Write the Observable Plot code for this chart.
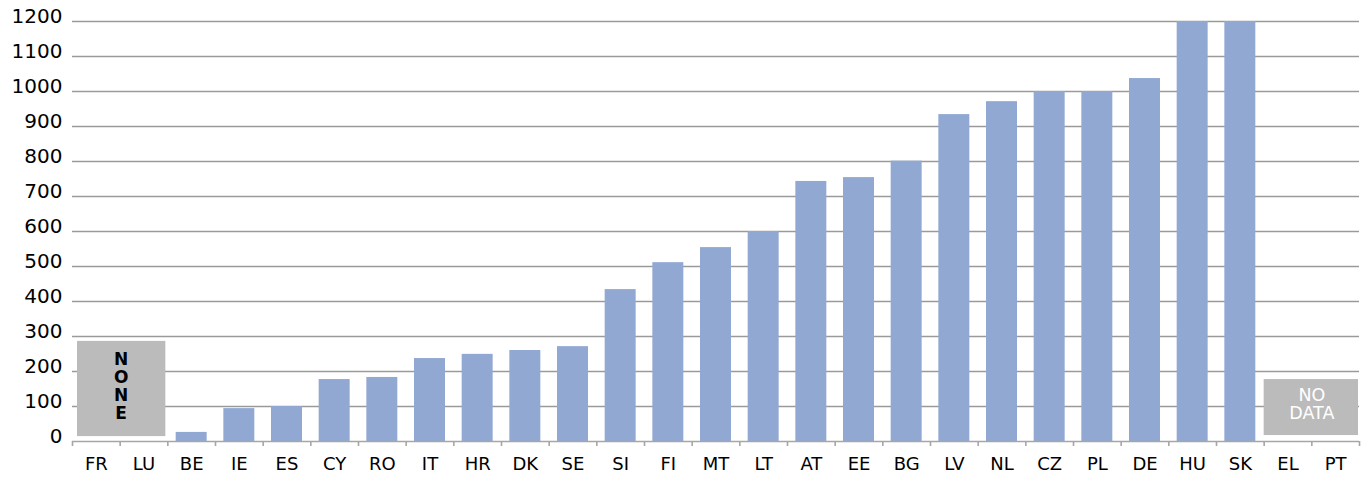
<!DOCTYPE html>
<html>
<head>
<meta charset="utf-8">
<script src="https://cdn.jsdelivr.net/npm/d3@7"></script>
<script src="https://cdn.jsdelivr.net/npm/@observablehq/plot@0.6"></script>
<style>
  html, body { margin: 0; padding: 0; background: #fff; }
</style>
</head>
<body>
<div id="chart"></div>
<script>
const categories = ["FR","LU","BE","IE","ES","CY","RO","IT","HR","DK","SE","SI","FI","MT","LT","AT","EE","BG","LV","NL","CZ","PL","DE","HU","SK","EL","PT"];
const values = [null,null,26,94,100,177,183,237,249,260,271,434,511,554,600,743,754,801,934,971,1000,1000,1037,1200,1200,null,null];
const yTicks = [0,100,200,300,400,500,600,700,800,900,1000,1100,1200];
const noneBox = [{from:"FR", to:"LU", lo:14, hi:286, label:"N\nO\nN\nE"}];
const noDataBox = [{from:"EL", to:"PT", lo:17, hi:177, label:"NO\nDATA"}];

const barData = categories.map((c, i) => ({c, i, v: values[i]})).filter(d => d.v != null);
const idx = c => categories.indexOf(c);
const pad = 0.175;

const chart = Plot.plot({
  width: 1367,
  height: 477,
  marginLeft: 72,
  marginRight: 8,
  marginTop: 21,
  marginBottom: 36,
  style: {fontFamily: "'DejaVu Sans', sans-serif", color: "#000", background: "#fff"},
  x: {type: "linear", domain: [0, categories.length], axis: null},
  y: {domain: [0, 1200], axis: null},
  marks: [
    Plot.gridY(yTicks.filter(t => t > 0), {stroke: "#9a9a9a", strokeOpacity: 1, strokeWidth: 1.6}),
    Plot.rectY(barData, {x1: d => d.i + pad, x2: d => d.i + 1 - pad, y: "v", fill: "#91a8d3"}),
    Plot.rect(noneBox, {x1: d => idx(d.from), x2: d => idx(d.to) + 1, y1: "lo", y2: "hi", fill: "#bbbbbb", insetLeft: 5, insetRight: 2}),
    Plot.text(noneBox, {x: d => (idx(d.from) + idx(d.to) + 1) / 2, y: d => (d.lo + d.hi) / 2, text: "label", fill: "#000", fontSize: 17, fontWeight: "bold", lineHeight: 1.06, dx: 1, dy: -3}),
    Plot.rect(noDataBox, {x1: d => idx(d.from), x2: d => idx(d.to) + 1, y1: "lo", y2: "hi", fill: "#bbbbbb", insetLeft: 0, insetRight: 1}),
    Plot.text(noDataBox, {x: d => (idx(d.from) + idx(d.to) + 1) / 2, y: d => (d.lo + d.hi) / 2, text: "label", fill: "#fff", fontSize: 17.5, lineHeight: 1.02, dy: -3}),
    Plot.ruleY([0], {stroke: "#a6a6a6", strokeWidth: 1.6}),
    Plot.axisX(d3.range(categories.length + 1), {tickSize: 5, stroke: "#a6a6a6", strokeWidth: 1.6, tickFormat: () => "", label: null}),
    Plot.axisX(d3.range(categories.length).map(i => i + 0.5), {tickSize: 0, tickPadding: 16, tickFormat: d => categories[Math.floor(d)], fontSize: 18, label: null}),
    Plot.axisY(yTicks, {tickSize: 0, tickPadding: 10, fontSize: 20, dy: -5, tickFormat: d => String(d), label: null})
  ]
});
document.getElementById("chart").appendChild(chart);
</script>
</body>
</html>
